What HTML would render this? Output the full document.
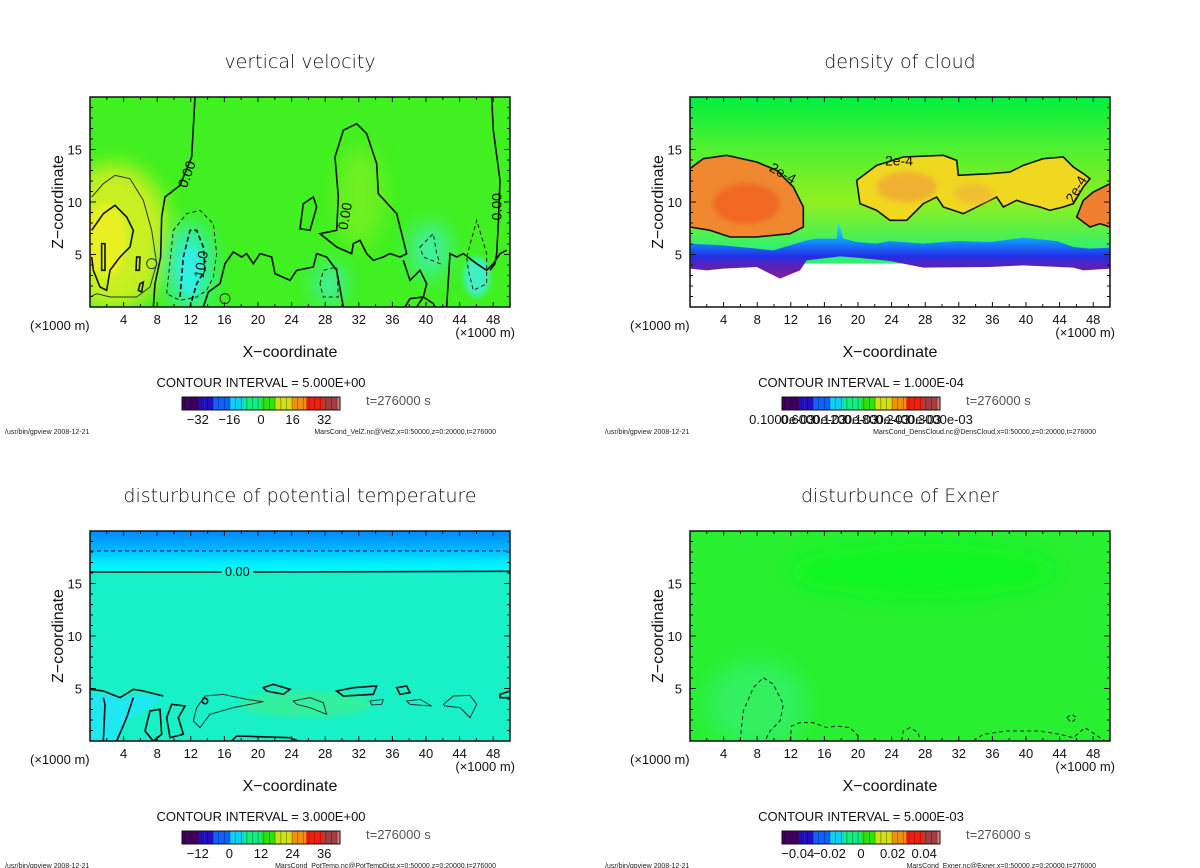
<!DOCTYPE html>
<html><head><meta charset="utf-8">
<style>
html,body{margin:0;padding:0;background:#fff;}
svg{display:block;font-family:"Liberation Sans",sans-serif;}
.t{font-size:19px;fill:#111;font-family:"DejaVu Sans","Liberation Sans",sans-serif;font-weight:300;}
.tk{font-size:13px;fill:#111;}
.al{font-size:16px;fill:#111;}
.sm{font-size:7px;fill:#222;}
.ci{font-size:13px;fill:#111;}
.c{fill:none;stroke:#111;stroke-width:1.6;vector-effect:non-scaling-stroke;}
.ct{fill:none;stroke:#333;stroke-width:1;vector-effect:non-scaling-stroke;}
.cd{fill:none;stroke:#222;stroke-width:1;stroke-dasharray:4 3;vector-effect:non-scaling-stroke;}
.cdb{fill:none;stroke:#111;stroke-width:1.6;stroke-dasharray:5 3;vector-effect:non-scaling-stroke;}
</style></head>
<body>
<svg id="fig" width="1200" height="868" viewBox="0 0 1200 868">
<defs>
<filter id="bl" x="-50%" y="-50%" width="200%" height="200%"><feGaussianBlur stdDeviation="30"/></filter>
<filter id="bl2" x="-50%" y="-50%" width="200%" height="200%"><feGaussianBlur stdDeviation="8"/></filter>
<clipPath id="cp"><rect x="0" y="0" width="1260" height="630"/></clipPath>
<linearGradient id="g2bg" x1="0" y1="0" x2="0" y2="1">
<stop offset="0" stop-color="#00f040"/><stop offset="0.25" stop-color="#50f030"/><stop offset="0.5" stop-color="#90f020"/><stop offset="0.62" stop-color="#60f040"/><stop offset="0.72" stop-color="#30f070"/><stop offset="1" stop-color="#30f070"/></linearGradient>
<linearGradient id="g2band" x1="0" y1="0" x2="0" y2="1">
<stop offset="0" stop-color="#20e8e0"/><stop offset="0.3" stop-color="#10a0ff"/><stop offset="0.6" stop-color="#2030e8"/><stop offset="0.8" stop-color="#6020b0"/><stop offset="1" stop-color="#8020a0"/></linearGradient>
<linearGradient id="g3top" x1="0" y1="0" x2="0" y2="1">
<stop offset="0" stop-color="#0088ff"/><stop offset="0.45" stop-color="#00b8ff"/><stop offset="0.75" stop-color="#00ecff"/><stop offset="1" stop-color="#00fff0"/></linearGradient>
</defs>

<!-- Panel 1 -->
<g>
<text class="t" x="300" y="68" text-anchor="middle">vertical velocity</text>
<g transform="translate(90,97) scale(0.33333)" clip-path="url(#cp)">
<rect width="1260" height="630" fill="#40f020"/>
<ellipse cx="70" cy="420" rx="170" ry="220" fill="#c8f020" filter="url(#bl)"/>
<ellipse cx="50" cy="430" rx="60" ry="110" fill="#e8f020" filter="url(#bl2)"/>
<ellipse cx="300" cy="510" rx="70" ry="130" fill="#30f0c0" filter="url(#bl)"/>
<ellipse cx="300" cy="520" rx="35" ry="70" fill="#30f0e0" filter="url(#bl2)"/>
<ellipse cx="1020" cy="460" rx="60" ry="80" fill="#40f0a0" filter="url(#bl)"/>
<ellipse cx="1160" cy="540" rx="40" ry="60" fill="#40f0c0" filter="url(#bl2)"/>
<ellipse cx="720" cy="560" rx="50" ry="60" fill="#40f0a0" filter="url(#bl)"/>
<ellipse cx="810" cy="300" rx="70" ry="150" fill="#70f020" filter="url(#bl)"/>
<path class="c" d="M315,0 L305,180 L270,265 L225,300 L215,360 L212,480 L195,560 L190,630"/>
<path class="c" d="M690,410 L740,400 L745,300 L735,180 L760,100 L800,80 L830,110 L860,200 L865,290 L920,350 L940,430 L950,470 L930,480 L900,470 L880,480 L850,490 L830,470 L810,430 L790,440 L785,470 L740,450 Z"/>
<path class="c" d="M1205,0 L1210,100 L1230,250 L1225,380 L1220,470 L1215,500 L1200,520"/>
<path class="c" d="M5,400 L40,350 L75,325 L110,360 L130,400 L120,450 L90,480 L60,520 L50,580 L30,570 L10,520 L5,480"/>
<path class="ct" d="M5,300 L40,260 L75,235 L120,245 L160,310 L185,400 L200,500 L180,570 L140,600 L60,600 L20,590 L0,600"/>
<path class="c" d="M340,630 L355,585 L390,560 L405,500 L430,465 L455,480 L470,470 L490,500 L510,470 L545,480 L555,530 L600,550 L620,520 L670,510 L680,470 L710,480 L740,520 L760,630"/>
<path class="c" d="M940,490 L960,550 L990,520 L1010,560 L1000,600 L980,630"/>
<path class="c" d="M1070,630 L1080,470 L1100,480 L1120,470 L1160,500 L1190,520 L1210,500 L1230,470 L1250,460"/>
<path class="c" d="M630,395 L640,320 L670,300 L680,330 L660,400 Z"/>
<path class="c" d="M945,630 L960,605 L1000,600 L1030,620 L1035,630"/>
<path class="c" d="M35,440 L45,440 L45,520 L35,520 Z M140,480 L150,480 L148,520 L138,520 Z M150,560 L160,555 L155,585 L145,580 Z"/>
<circle class="ct" cx="185" cy="500" r="15"/><circle class="ct" cx="405" cy="605" r="15"/>
<path class="cd" d="M230,590 L250,400 L290,350 L330,340 L370,380 L380,470 L370,540 L350,580 L320,600 L270,610 Z"/>
<path class="cdb" d="M270,600 L280,480 L300,400 L320,400 L340,450 L345,520 L320,560 L300,630"/>
<path class="cd" d="M990,450 L1030,410 L1040,470 L1050,500 L1000,480 Z"/>
<path class="cd" d="M1130,480 L1160,370 L1190,470 L1190,560 L1150,580 L1135,520 Z"/>
<path class="cd" d="M690,560 L700,520 L740,510 L745,600 L700,600 Z"/>
<g font-size="42" fill="#111">
<text transform="translate(290,275) rotate(-70)">0.00</text>
<text transform="translate(772,400) rotate(-80)">0.00</text>
<text transform="translate(1235,370) rotate(-90)">0.00</text>
<text transform="translate(340,545) rotate(-80)">10.0</text>
</g>
</g>
</g>

<!-- Panel 2 -->
<g>
<text class="t" x="900" y="68" text-anchor="middle">density of cloud</text>
<g transform="translate(690,97) scale(0.33333)" clip-path="url(#cp)">
<rect width="1260" height="630" fill="url(#g2bg)"/>
<path fill="#fff" d="M0,500 L1260,500 L1260,630 L0,630 Z"/>
<path fill="url(#g2band)" d="M0,440 L100,445 L200,455 L250,460 L350,430 L380,425 L440,425 L445,375 L460,425 L500,435 L560,440 L600,432 L700,440 L800,432 L900,435 L1000,422 L1100,432 L1150,450 L1200,455 L1260,452 L1260,515 L1180,520 L1150,512 L1000,505 L900,510 L700,512 L600,492 L500,482 L450,478 L350,490 L330,520 L270,545 L240,530 L200,510 L100,515 L50,520 L0,515 Z"/>
<path fill="#f0d820" stroke="#111" stroke-width="1.6" vector-effect="non-scaling-stroke" d="M500,250 L560,205 L640,180 L760,175 L800,190 L805,235 L900,230 L960,225 L1000,205 L1060,185 L1120,180 L1150,210 L1180,230 L1200,245 L1180,270 L1150,320 L1120,330 L1080,340 L1050,330 L1010,320 L980,310 L940,330 L920,300 L880,320 L820,350 L760,330 L740,300 L700,320 L650,370 L600,370 L560,340 L510,320 Z"/>
<ellipse cx="650" cy="270" rx="90" ry="45" fill="#f0b030" filter="url(#bl2)"/>
<ellipse cx="850" cy="290" rx="60" ry="30" fill="#f0c030" filter="url(#bl2)"/>
<path fill="#f08830" stroke="#111" stroke-width="1.6" vector-effect="non-scaling-stroke" d="M0,215 L40,185 L110,175 L200,195 L260,220 L310,270 L340,330 L340,390 L300,410 L200,420 L120,420 L60,400 L0,390 Z"/>
<ellipse cx="170" cy="320" rx="100" ry="60" fill="#f06820" filter="url(#bl2)"/>
<path fill="#f08030" stroke="#111" stroke-width="1.6" vector-effect="non-scaling-stroke" d="M1160,360 L1180,310 L1210,285 L1260,260 L1260,390 L1230,380 L1200,390 Z"/>
<g font-size="42" fill="#111">
<text x="585" y="205">2e-4</text>
<text transform="translate(235,220) rotate(30)">2e-4</text>
<text transform="translate(1150,320) rotate(-60)">2e-4</text>
</g>
</g>
</g>

<!-- Panel 3 -->
<g>
<text class="t" x="300" y="502" text-anchor="middle">disturbunce of potential temperature</text>
<g transform="translate(90,531) scale(0.33333)" clip-path="url(#cp)">
<rect width="1260" height="630" fill="#18f0c8"/>
<rect width="1260" height="125" fill="url(#g3top)"/>
<ellipse cx="650" cy="520" rx="200" ry="40" fill="#30f0a0" filter="url(#bl2)"/>
<path fill="#30f090" class="ct" d="M320,530 L345,495 L400,490 L470,505 L520,512 L430,530 L360,550 L330,590 L310,570 Z"/>
<path fill="#20e8f0" d="M0,490 L40,490 L90,500 L160,490 L220,500 L180,530 L120,560 L80,630 L0,630 Z"/>
<path class="c" d="M0,475 L40,480 L90,500 L130,475 L160,480 L220,495 M40,630 L45,520 L40,500 M80,630 L110,560 L130,500"/>
<path class="c" fill="#20e8f0" d="M165,600 L180,540 L210,535 L215,610 L190,630 Z"/>
<path class="c" fill="#20e8f0" d="M230,560 L245,520 L285,525 L265,560 L280,610 L240,620 Z"/>
<path class="c" fill="#30e8f0" d="M520,470 L550,460 L600,475 L580,490 L530,480 Z"/>
<path class="c" fill="#30e8f0" d="M740,480 L790,470 L860,465 L850,490 L760,495 Z"/>
<path class="c" d="M920,470 L950,465 L960,485 L930,490 Z M1230,490 L1260,480 L1260,500 L1230,500 Z M425,630 L440,615 L600,620 L625,630"/>
<path class="ct" d="M610,510 L660,500 L700,515 L710,550 L660,530 L620,520 Z M840,510 L880,505 L875,520 L845,522 Z M950,510 L990,505 L1025,525 L960,520 Z M1060,520 L1090,495 L1140,493 L1160,520 L1140,560 L1110,530 L1065,525 Z"/>
<circle class="c" cx="345" cy="510" r="8"/>
<line class="cd" x1="0" y1="60" x2="1260" y2="60"/>
<line class="c" x1="0" y1="123" x2="395" y2="123"/><line class="c" x1="490" y1="123" x2="1260" y2="121"/>
<text x="405" y="135" font-size="38" fill="#111">0.00</text>
</g>
</g>

<!-- Panel 4 -->
<g>
<text class="t" x="900" y="502" text-anchor="middle">disturbunce of Exner</text>
<g transform="translate(690,531) scale(0.33333)" clip-path="url(#cp)">
<rect width="1260" height="630" fill="#28f030"/>
<ellipse cx="700" cy="120" rx="400" ry="80" fill="#10f820" filter="url(#bl)"/>
<ellipse cx="200" cy="520" rx="150" ry="130" fill="#30f060" filter="url(#bl)"/>
<path class="cd" d="M150,630 L160,540 L190,470 L220,440 L250,460 L280,520 L270,570 L240,600 L225,630"/>
<path class="cd" d="M300,630 L305,585 L330,575 L370,575 L410,590 L440,585 L480,590 L505,615 L505,630"/>
<path class="cd" d="M635,630 L640,600 L660,590 L685,605 L690,630"/>
<path class="cd" d="M850,630 L880,610 L950,600 L1050,600 L1110,610 L1150,620 L1185,590 L1230,620 L1245,630"/>
<path class="cd" d="M1130,560 L1145,550 L1160,560 L1145,575 Z"/>
</g>
</g>

<g id="axes"></g>
</svg>
<script>
const xTickLabels = ["4","8","12","16","20","24","28","32","36","40","44","48"];
const xTickValues = [4,8,12,16,20,24,28,32,36,40,44,48];
const zTickValues = [5,10,15];
const zTickLabels = ["5","10","15"];
const xMax = 50, zMax = 20;
const panelOrigins = [[90,97],[690,97],[90,531],[690,531]];
const panelNames = ["velocity","cloud","pottemp","exner"];
const cbTickLabels1 = ["\u221232","\u221216","0","16","32"];
const cbTickValues1 = [-32,-16,0,16,32];
const cbTickLabels3 = ["\u221212","0","12","24","36"];
const cbTickValues3 = [-12,0,12,24,36];
const cbTickLabels4 = ["\u22120.04","\u22120.02","0","0.02","0.04"];
const cbTickValues4 = [-0.04,-0.02,0,0.02,0.04];
const cbTickLabels2 = ["0.1000e-03","0.6000e-03","0.1200e-03","0.1800e-03","0.2400e-03","0.3000e-03"];
const cbTickValues2 = [0.0,0.2,0.4,0.6,0.8,1.0];
const cbRanges = [[-40,40],[0,1],[-18,42],[-0.05,0.05]];
const ciTexts = ["CONTOUR INTERVAL = 5.000E+00","CONTOUR INTERVAL = 1.000E-04","CONTOUR INTERVAL = 3.000E+00","CONTOUR INTERVAL = 5.000E-03"];
const fileTexts = ["MarsCond_VelZ.nc@VelZ,x=0:50000,z=0:20000,t=276000","MarsCond_DensCloud.nc@DensCloud,x=0:50000,z=0:20000,t=276000","MarsCond_PotTemp.nc@PotTempDist,x=0:50000,z=0:20000,t=276000","MarsCond_Exner.nc@Exner,x=0:50000,z=0:20000,t=276000"];
const paletteStops = ["#400060","#2010c0","#1060ff","#10d0f0","#10f080","#30e010","#d0e010","#f09010","#f02010","#a04040","#e08080"];

const NS="http://www.w3.org/2000/svg";
function el(tag, attrs, parent, txt){const e=document.createElementNS(NS,tag);for(const k in attrs)e.setAttribute(k,attrs[k]);if(txt!==undefined)e.textContent=txt;parent.appendChild(e);return e;}
const axes=document.getElementById('axes');
const W=420,H=210;
function xs(x0,v){return x0+v/xMax*W;}
function zs(y0,v){return y0+H-v/zMax*H;}

panelOrigins.forEach((o,i)=>{
  const [x0,y0]=o;
  const g=el('g',{},axes);
  
  
  const f=el('rect',{x:x0,y:y0,width:W,height:H,fill:'none',stroke:'#111','stroke-width':1.5},g);
  
  
  for(let v=2;v<xMax;v+=2){
    const major=v%4===0; const L=major?5:3;
    el('line',{x1:xs(x0,v),x2:xs(x0,v),y1:y0+H,y2:y0+H-L,stroke:'#111','stroke-width':1},g);
    el('line',{x1:xs(x0,v),x2:xs(x0,v),y1:y0,y2:y0+L,stroke:'#111','stroke-width':1},g);
  }
  for(let v=1;v<zMax;v++){
    const major=v%5===0; const L=major?6:3;
    el('line',{x1:x0,x2:x0+L,y1:zs(y0,v),y2:zs(y0,v),stroke:'#111','stroke-width':1},g);
    el('line',{x1:x0+W,x2:x0+W-L,y1:zs(y0,v),y2:zs(y0,v),stroke:'#111','stroke-width':1},g);
  }
  xTickValues.forEach((v,k)=>{
    const t=el('text',{x:xs(x0,v),y:y0+H+17,'text-anchor':'middle',class:'tk'},g,xTickLabels[k]);
    
    
  });
  zTickValues.forEach((v,k)=>{
    const t=el('text',{x:x0-8,y:zs(y0,v)+5,'text-anchor':'end',class:'tk'},g,zTickLabels[k]);
    
    
  });
  const u1=el('text',{x:x0-60,y:y0+H+23,class:'tk'},g,'(\u00d71000 m)');
  
  
  const u2=el('text',{x:x0+W+5,y:y0+H+30,'text-anchor':'end',class:'tk'},g,'(\u00d71000 m)');
  
  
  const xl=el('text',{x:x0+W/2-10,y:y0+H+50,'text-anchor':'middle',class:'al'},g,'X\u2212coordinate');
  
  
  const zl=el('text',{transform:`translate(${x0-27},${y0+H/2}) rotate(-90)`,'text-anchor':'middle',class:'al'},g,'Z\u2212coordinate');
  
  
  const cx=x0+171;
  const ci=el('text',{x:cx,y:y0+290,'text-anchor':'middle',class:'ci'},g,ciTexts[i]);
  
  
  const tt=el('text',{x:x0+276,y:y0+308,class:'tk',style:'fill:#555'},g,'t=276000 s');
  
  
  const ft=el('text',{x:x0-85,y:y0+337,class:'sm'},g,'/usr/bin/gpview   2008-12-21');
  
  
  const ff=el('text',{x:x0+406,y:y0+337,'text-anchor':'end',class:'sm'},g,fileTexts[i]);
  
  
  const bx=x0+92,by=y0+300,bw=158,bh=13,n=56;
  const cb=el('g',{},g);
  
  
  for(let s=0;s<n;s++){
    const p=s/(n-1)*(paletteStops.length-1);const a=Math.floor(p);
    const col=paletteStops[Math.min(a,paletteStops.length-1)];
    el('rect',{x:bx+s*bw/n,y:by,width:bw/n+0.3,height:bh,fill:col},cb);
    if(s%2===1) el('line',{x1:bx+s*bw/n,x2:bx+s*bw/n,y1:by,y2:by+bh,stroke:'#000','stroke-opacity':0.35,'stroke-width':0.8},cb);
  }
  el('rect',{x:bx,y:by,width:bw,height:bh,fill:'none',stroke:'#111','stroke-width':1},cb);
  const [lo,hi]=cbRanges[i];
  let vals,labs;
  if(i===0){vals=cbTickValues1;labs=cbTickLabels1;}
  else if(i===1){vals=cbTickValues2;labs=cbTickLabels2;}
  else if(i===2){vals=cbTickValues3;labs=cbTickLabels3;}
  else {vals=cbTickValues4;labs=cbTickLabels4;}
  vals.forEach((v,k)=>{
    const px=bx+(v-lo)/(hi-lo)*bw;
    const t=el('text',{x:px,y:by+27,'text-anchor':'middle',class:'tk'},cb,labs[k]);
    
    
  });
});
</script>
</body></html>
